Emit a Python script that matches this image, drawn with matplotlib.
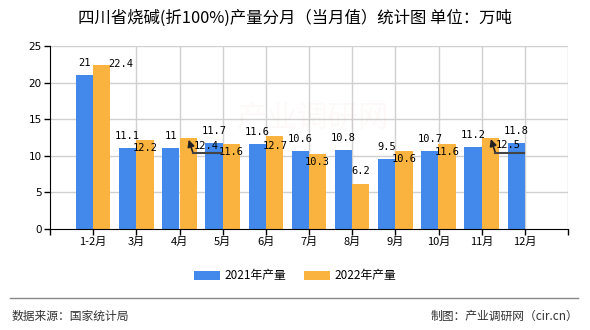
import matplotlib
matplotlib.use("Agg")
import matplotlib.pyplot as plt
from matplotlib.lines import Line2D
from matplotlib.patches import Patch

plt.rcParams['font.family'] = ['Noto Sans CJK SC', 'DejaVu Sans']

categories = ["1-2月", "3月", "4月", "5月", "6月", "7月", "8月", "9月", "10月", "11月", "12月"]
prod_2021 = [21, 11.1, 11, 11.7, 11.6, 10.6, 10.8, 9.5, 10.7, 11.2, 11.8]
prod_2022 = [22.4, 12.2, 12.4, 11.6, 12.7, 10.3, 6.2, 10.6, 11.6, 12.5, None]
series_names = ["2021年产量", "2022年产量"]
title = "四川省烧碱(折100%)产量分月（当月值）统计图 单位：万吨"
source = "数据来源：国家统计局"
maker = "制图：产业调研网（cir.cn）"

# label offsets (pixels) for 2022 labels: (dx, dy, arrow)
offs_2022 = {0: (19, 1, False), 6: (0, 12.6, False), 2: (18, -8, True), 9: (18, -8, True),
             4: (1, -9.5, False)}

BLUE = "#4289EB"
ORANGE = "#FBB33F"
DPI = 100
fig = plt.figure(figsize=(5.9, 3.3), dpi=DPI)
ax = fig.add_axes([50 / 590, 101 / 330, 518 / 590, 183 / 330])

n = len(categories)
xs = list(range(n))
w = 0.4
ax.bar([x - w / 2 for x in xs], prod_2021, width=w, color=BLUE, zorder=2)
x22 = [x + w / 2 for x, v in zip(xs, prod_2022) if v is not None]
v22 = [v for v in prod_2022 if v is not None]
ax.bar(x22, v22, width=w, color=ORANGE, zorder=2)

ax.set_xlim(-1, n)
ax.set_ylim(0, 25)
ax.set_yticks([0, 5, 10, 15, 20, 25])
ax.set_yticklabels(["0", "5", "10", "15", "20", "25"], fontsize=7.5, family="DejaVu Sans")
ax.set_xticks(list(range(-1, n + 1)))
ax.set_xticklabels([""] + categories + [""], fontsize=8)
ax.tick_params(axis='x', length=4, width=1, color='black', pad=2)
ax.tick_params(axis='y', length=4, width=1, color='black', pad=2)
for y in [5, 10, 15, 20, 25]:
    ax.axhline(y, color="#D0D0D0", lw=1, zorder=1)
for x in range(1, n + 1):
    ax.axvline(x, color="#D0D0D0", lw=1, zorder=1)
for s in ["top", "right"]:
    ax.spines[s].set_visible(False)
ax.spines["left"].set_color("black")
ax.spines["bottom"].set_color("black")
ax.spines["left"].set_zorder(3)
ax.spines["bottom"].set_zorder(3)

lab_font = dict(family="DejaVu Sans Mono", fontsize=7.5, color="black")
for i, v in enumerate(prod_2021):
    ax.annotate(f"{v:g}", xy=(i - w / 2, v), xytext=(0, 12), textcoords="offset pixels",
                ha="center", va="center", zorder=5, **lab_font)

fig.canvas.draw()
for i, v in enumerate(prod_2022):
    if v is None:
        continue
    dx, dy, arrow = offs_2022.get(i, (0, -8, False))
    ax.annotate(f"{v:g}", xy=(i + w / 2, v), xytext=(dx, dy), textcoords="offset pixels",
                ha="center", va="center", zorder=5, **lab_font)
    if arrow:
        px, py = ax.transData.transform((i + w / 2, v))
        tip = (px + 0.5, py - 1.5)
        corner = (px + 5, py - 15)
        end = (px + 34, py - 15)
        fig.add_artist(Line2D([corner[0], end[0]], [corner[1], end[1]], transform=None,
                              color="#444444", lw=1.5, zorder=6))
        ax.annotate("", xy=tip, xycoords="figure pixels", xytext=corner, textcoords="figure pixels",
                    arrowprops=dict(arrowstyle="-|>", color="#222222", lw=1.2,
                                    mutation_scale=10, shrinkA=0, shrinkB=0), zorder=6)

# faint watermark
fig.text(0.53, 0.64, "产业调研网", fontsize=22, color="#E06060", alpha=0.035,
         ha="center", va="center")

fig.text(0.5, 1 - 18 / 330, title, fontsize=11.8, ha="center", va="center", color="black")

handles = [Patch(facecolor=BLUE, edgecolor="none"), Patch(facecolor=ORANGE, edgecolor="none")]
fig.legend(handles, series_names, loc="center", bbox_to_anchor=(0.5, 1 - 276 / 330), ncol=2,
           frameon=False, fontsize=8.5, handlelength=2.2, handleheight=0.8,
           handletextpad=0.4, columnspacing=1.5)

fig.add_artist(Line2D([10 / 590, 578 / 590], [1 - 298 / 330] * 2, transform=fig.transFigure,
                      color="#888888", lw=1))
fig.text(12 / 590, 1 - 316 / 330, source, fontsize=8.5, ha="left", va="center", color="#333333")
fig.text(578 / 590, 1 - 316 / 330, maker, fontsize=8.5, ha="right", va="center", color="#333333")

fig.savefig("out.png", dpi=DPI)
